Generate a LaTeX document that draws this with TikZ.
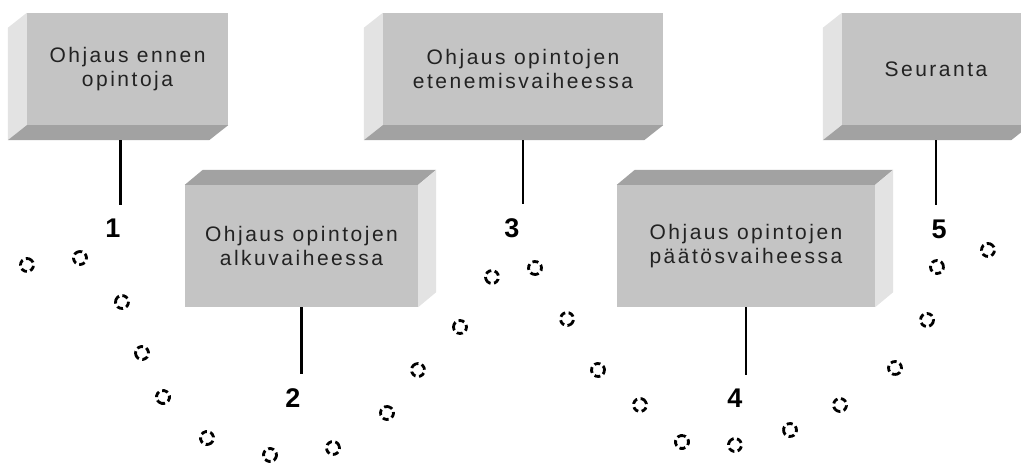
\documentclass[tikz,border=0pt]{standalone}
\usepackage{fontspec}
\usepackage{xcolor}
\setmainfont{Liberation Sans}
\newfontfamily\stagefont[LetterSpace=12]{Liberation Sans}
\usetikzlibrary{calc}
\definecolor{boxfront}{HTML}{C4C4C4}
\definecolor{boxlight}{HTML}{E3E3E3}
\definecolor{boxdark}{HTML}{A2A2A2}
\definecolor{stagetext}{HTML}{222222}

\begin{document}
\begin{tikzpicture}[
    x=1pt, y=1pt,
    stage/.style={rectangle, fill=boxfront, text=stagetext, align=center, inner sep=0pt,
                  minimum height=112pt, font=\stagefont\fontsize{21}{24}\selectfont},
    lowstage/.style={stage, minimum height=122pt},
    phase/.style={inner sep=0pt, font=\bfseries\fontsize{27}{27}\selectfont},
    stem/.style={line width=2.8pt, shorten >=14pt},
    footstep/.style={circle, draw, line width=2.8pt, dash pattern=on 6pt off 3.5pt,
                     minimum size=13pt, inner sep=0pt}
]
    \useasboundingbox (0,0) rectangle (1021,466);
    \clip (0,0) rectangle (1021,466);

    % Upper stages (depth to the lower left)
    \node[stage, minimum width=201pt] (ennen) at (127.5,397) {Ohjaus ennen\\opintoja};
    \node[stage, minimum width=280pt] (eteneminen) at (523,397) {Ohjaus opintojen\\etenemisvaiheessa};
    \node[stage, minimum width=188pt] (seuranta) at (936,397) {Seuranta};

    % Lower stages (depth to the upper right)
    \node[lowstage, minimum width=233pt] (alku) at (301.5,220) {Ohjaus opintojen\\alkuvaiheessa};
    \node[lowstage, minimum width=258pt] (paatos) at (746,220) {Ohjaus opintojen\\päätösvaiheessa};

    % Side faces
    \foreach \b in {ennen,eteneminen,seuranta} {
        \fill[boxlight] (\b.north west) -- (\b.south west) -- ++(-19,-15)
            -- ($(\b.north west)+(-19,-15)$) -- cycle;
        \fill[boxdark] (\b.south west) -- (\b.south east) -- ++(-19,-15)
            -- ($(\b.south west)+(-19,-15)$) -- cycle;
    }
    \foreach \b in {alku,paatos} {
        \fill[boxdark] (\b.north west) -- (\b.north east) -- ++(18,15)
            -- ($(\b.north west)+(18,15)$) -- cycle;
        \fill[boxlight] (\b.north east) -- (\b.south east) -- ++(18,15)
            -- ($(\b.north east)+(18,15)$) -- cycle;
    }

    % Phase numbers
    \node[phase] (n1) at (113,238) {1};
    \node[phase] (n2) at (293,68) {2};
    \node[phase] (n3) at (512,238) {3};
    \node[phase] (n4) at (735,68) {4};
    \node[phase] (n5) at (939,237) {5};

    % Stems
    \draw[stem] ([xshift=-7pt,yshift=-15pt]ennen.south) -- ([xshift=-7pt]ennen.south |- n1.north);
    \draw[stem] (alku.south) -- (alku.south |- n2.north);
    \draw[stem] ([yshift=-15pt]eteneminen.south) -- (eteneminen.south |- n3.north);
    \draw[stem] (paatos.south) -- (paatos.south |- n4.north);
    \draw[stem] ([yshift=-15pt]seuranta.south) -- (seuranta.south |- n5.north);

    % Footsteps
    \foreach \x/\y [count=\i] in {27/201, 80/208, 122/164, 142/113, 163/69, 207/28,
            270/11, 333/18, 387/53, 418/96, 460/139, 492/189,
            535/198, 567/147, 598/96, 640/61, 682/24, 735/21,
            790/36, 840/61, 895/98, 927/146, 937/199, 988/216}
        \node[footstep, rotate=\i*47] (f\i) at (\x,\y) {};
\end{tikzpicture}
\end{document}
